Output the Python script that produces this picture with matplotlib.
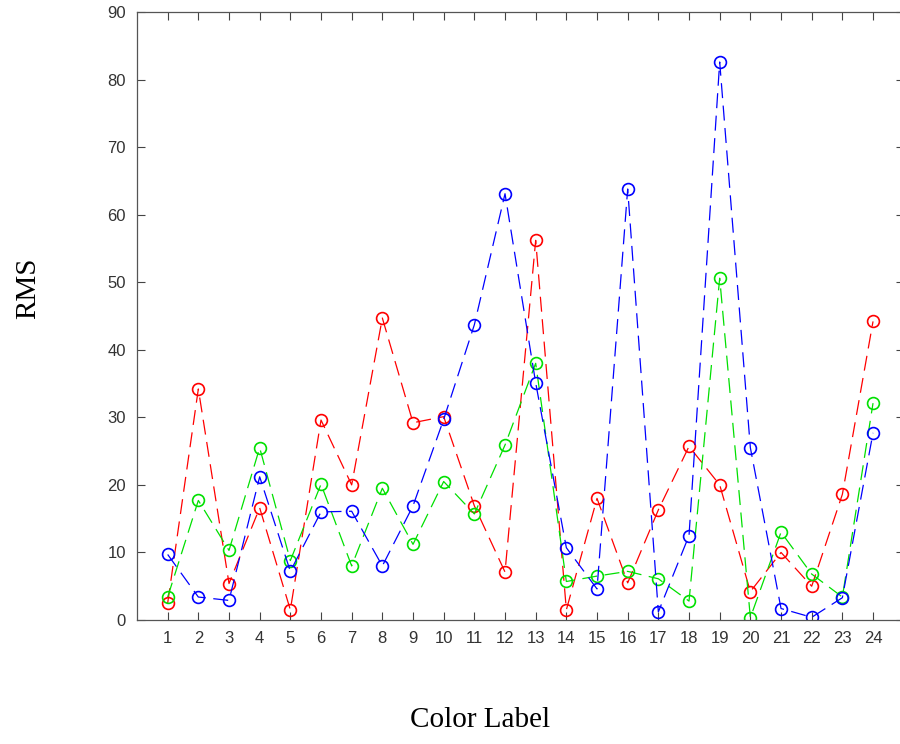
import numpy as np
import matplotlib.pyplot as plt

# Datos
labels = list(range(1, 25))
rms_red = [2.5, 34.2, 5.4, 16.6, 1.5, 29.6, 20.0, 44.7, 29.2, 30.1, 16.9, 7.1,
           56.2, 1.5, 18.0, 5.5, 16.3, 25.7, 20.0, 4.2, 10.0, 5.0, 18.6, 44.2]
rms_green = [3.4, 17.7, 10.3, 25.5, 8.8, 20.1, 8.0, 19.5, 11.2, 20.5, 15.7, 25.9,
             38.0, 5.7, 6.5, 7.2, 6.1, 2.8, 50.6, 0.35, 13.0, 6.8, 3.4, 32.1]
rms_blue = [9.7, 3.4, 2.9, 21.2, 7.2, 16.0, 16.1, 8.0, 16.9, 29.7, 43.7, 63.1,
            35.1, 10.7, 4.6, 63.8, 1.2, 12.5, 82.6, 25.5, 1.7, 0.4, 3.3, 27.7]

fig = plt.figure(figsize=(9, 7.44), dpi=100)
ax = fig.add_axes([137 / 900, 1 - 620 / 744, (903.7 - 137) / 900, (620 - 12) / 744])

for vals, col in [(rms_red, '#ff0000'), (rms_green, '#00e000'), (rms_blue, '#0000ff')]:
    ax.plot(labels, vals, color=col, linestyle=(0, (12, 6)), linewidth=0.9,
            marker='o', markersize=8.5, markerfacecolor='none',
            markeredgecolor=col, markeredgewidth=1.2)

ax.set_xlim(0, 25)
ax.set_ylim(0, 90)
ax.set_xticks(labels)
ax.set_yticks(np.arange(0, 91, 10))
ax.tick_params(direction='in', length=6, width=0.8, top=True, right=True,
               colors='#444444', labelcolor='#333333', labelsize=12)
ax.tick_params(axis='x', pad=8)
ax.tick_params(axis='y', pad=8)
for lab in ax.get_xticklabels() + ax.get_yticklabels():
    lab.set_fontfamily('Liberation Sans')
for s in ax.spines.values():
    s.set_color('#555555')
    s.set_linewidth(0.9)

fig.text(480 / 900, 1 - 720 / 744, 'Color Label', ha='center', va='center',
         fontsize=21, family='Liberation Serif')
fig.text(28 / 900, 1 - 288 / 744, 'RMS', ha='center', va='center', rotation=90,
         fontsize=21, family='Liberation Serif')

fig.savefig('out.png', dpi=100)
